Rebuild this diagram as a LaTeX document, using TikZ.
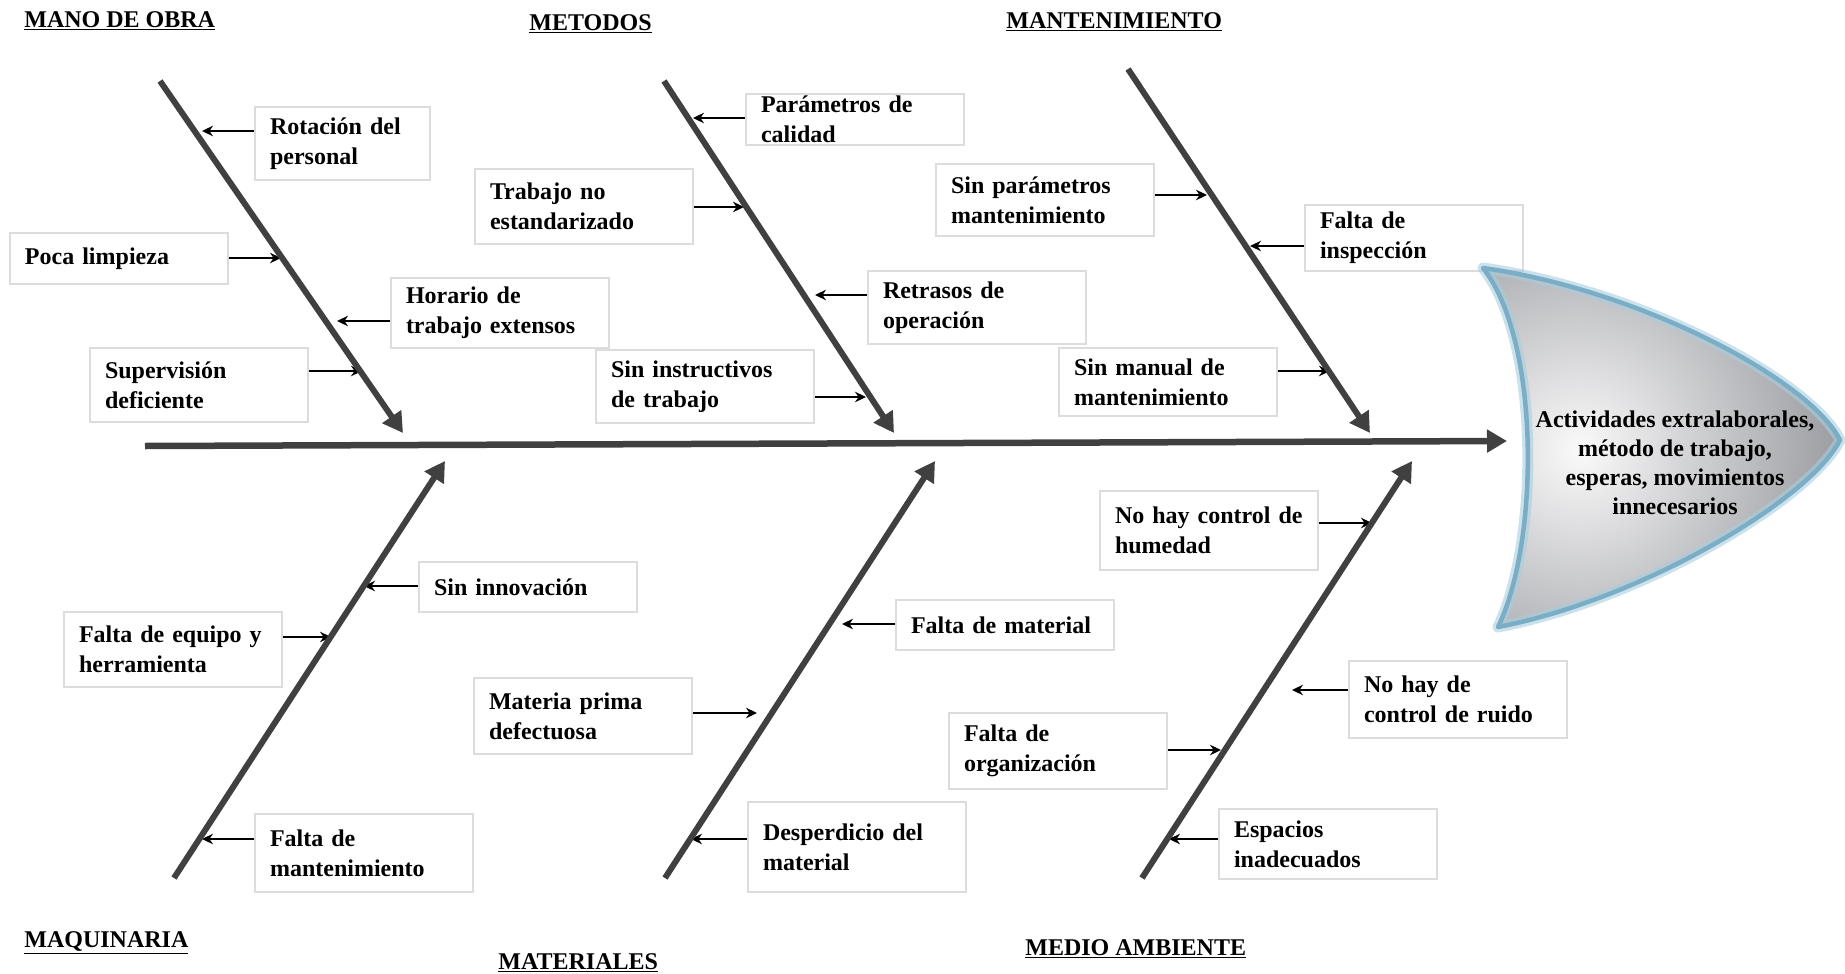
\documentclass[tikz,border=0pt]{standalone}
\usepackage{fontspec}
\setmainfont{Liberation Serif}
\usepackage{tikz,xcolor}
\usetikzlibrary{arrows.meta}
\definecolor{grishueso}{HTML}{404040}
\definecolor{bordecaja}{HTML}{DCDCDC}
\definecolor{brillo}{HTML}{A9CDDD}
\definecolor{brilloosc}{HTML}{7AADC6}
\definecolor{grisosc}{HTML}{6C6E76}
\newcommand{\letra}{\fontsize{13.66pt}{17pt}\selectfont\bfseries}
\tikzset{causa/.style={draw=bordecaja, line width=0.4mm, anchor=north west, align=left,
    text width=37.6mm, inner xsep=3mm, inner ysep=0.5mm, minimum height=#1, font=\letra},
    causa/.default=10mm,
    hueso/.style={draw=grishueso, line width=1.2mm, -{Triangle[length=4mm,width=4.4mm]}},
    flecha/.style={line width=0.35mm, -{Stealth[length=2.2mm,width=2.1mm]}},
    titulo/.style={anchor=base west, inner sep=0pt, font=\letra}}

\begin{document}
\begin{tikzpicture}[x=0.2mm, y=-0.2mm]
    \useasboundingbox (0,0) rectangle (1845,974);
    % Titulos de las categorias
    \node[titulo] (mano) at (24,27) {\underline{MANO DE OBRA}};
    \node[titulo] (meto) at (529,30) {\underline{METODOS}};
    \node[titulo] (mtto) at (1006,28) {\underline{MANTENIMIENTO}};
    \node[titulo] (maqu) at (24,947) {\underline{MAQUINARIA}};
    \node[titulo] (matl) at (498,969) {\underline{MATERIALES}};
    \node[titulo] (medi) at (1025,955) {\underline{MEDIO AMBIENTE}};
    %
    % Causas de arriba
    \node[causa=14.6mm, text width=29mm] (rota) at (254,106) {Rotación del\\personal};
    \node[causa=10.2mm] (limp) at (9,232) {Poca limpieza};
    \node[causa=14mm] (hora) at (390,277) {Horario de\\trabajo extensos};
    \node[causa=14.8mm] (supe) at (89,347) {Supervisión\\deficiente};
    \node[causa=10.2mm, inner ysep=0pt] (para) at (745,93) {Parámetros de\\calidad};
    \node[causa=15mm] (trab) at (474,168) {Trabajo no\\estandarizado};
    \node[causa=14.6mm] (retr) at (867,270) {Retrasos de\\operación};
    \node[causa=14.6mm] (inst) at (595,349) {Sin instructivos\\de trabajo};
    \node[causa=14.4mm] (spar) at (935,163) {Sin parámetros\\mantenimiento};
    \node[causa=13.2mm] (insp) at (1304,204) {Falta de\\inspección};
    \node[causa=13.6mm] (sman) at (1058,347) {Sin manual de\\mantenimiento};
    % Causas de abajo
    \node[causa=10mm] (inno) at (418,561) {Sin innovación};
    \node[causa=15mm] (equi) at (63,611) {Falta de equipo y\\herramienta};
    \node[causa=15.6mm] (mant) at (254,813) {Falta de\\mantenimiento};
    \node[causa=10mm] (mate) at (895,599) {Falta de material};
    \node[causa=15.2mm] (prim) at (473,677) {Materia prima\\defectuosa};
    \node[causa=18mm] (desp) at (747,801) {Desperdicio del\\material};
    \node[causa=15.8mm] (hume) at (1099,490) {No hay control de\\humedad};
    \node[causa=15.4mm] (ruid) at (1348,660) {No hay de\\control de ruido};
    \node[causa=15.2mm] (orga) at (948,712) {Falta de\\organización};
    \node[causa=14mm] (espa) at (1218,808) {Espacios\\inadecuados};
    %
    % Puntas de las flechas sobre los huesos
    \coordinate (prota) at (202,131);
    \coordinate (plimp) at (281,258);
    \coordinate (phora) at (337,321);
    \coordinate (psupe) at (362,371);
    \coordinate (ppara) at (693,118);
    \coordinate (ptrab) at (744,207);
    \coordinate (pretr) at (815,295);
    \coordinate (pinst) at (866,397);
    \coordinate (pspar) at (1207,195);
    \coordinate (pinsp) at (1250,246);
    \coordinate (psman) at (1330,371);
    \coordinate (pinno) at (364,586);
    \coordinate (pequi) at (331,637);
    \coordinate (pmant) at (202,839);
    \coordinate (pmate) at (842,624);
    \coordinate (pprim) at (757,713);
    \coordinate (pdesp) at (691,839);
    \coordinate (phume) at (1372,523);
    \coordinate (pruid) at (1292,690);
    \coordinate (porga) at (1221,750);
    \coordinate (pespa) at (1169,839);
    \draw[flecha] (rota.west |- prota) -- (prota);
    \draw[flecha] (limp.east |- plimp) -- (plimp);
    \draw[flecha] (hora.west |- phora) -- (phora);
    \draw[flecha] (supe.east |- psupe) -- (psupe);
    \draw[flecha] (para.west |- ppara) -- (ppara);
    \draw[flecha] (trab.east |- ptrab) -- (ptrab);
    \draw[flecha] (retr.west |- pretr) -- (pretr);
    \draw[flecha] (inst.east |- pinst) -- (pinst);
    \draw[flecha] (spar.east |- pspar) -- (pspar);
    \draw[flecha] (insp.west |- pinsp) -- (pinsp);
    \draw[flecha] (sman.east |- psman) -- (psman);
    \draw[flecha] (inno.west |- pinno) -- (pinno);
    \draw[flecha] (equi.east |- pequi) -- (pequi);
    \draw[flecha] (mant.west |- pmant) -- (pmant);
    \draw[flecha] (mate.west |- pmate) -- (pmate);
    \draw[flecha] (prim.east |- pprim) -- (pprim);
    \draw[flecha] (desp.west |- pdesp) -- (pdesp);
    \draw[flecha] (hume.east |- phume) -- (phume);
    \draw[flecha] (ruid.west |- pruid) -- (pruid);
    \draw[flecha] (orga.east |- porga) -- (porga);
    \draw[flecha] (espa.west |- pespa) -- (pespa);
    %
    % Espina y huesos
    \coordinate (cola) at (145,446);
    \coordinate (boca) at (1507,441);
    \coordinate (h1a) at (160,81);   \coordinate (h1b) at (403,433);
    \coordinate (h2a) at (664,81);   \coordinate (h2b) at (894,433);
    \coordinate (h3a) at (1128,69);  \coordinate (h3b) at (1370,433);
    \coordinate (h4a) at (174,878);  \coordinate (h4b) at (445,461);
    \coordinate (h5a) at (665,878);  \coordinate (h5b) at (935,461);
    \coordinate (h6a) at (1142,878); \coordinate (h6b) at (1412,461);
    \draw[hueso, line width=1.3mm] (cola) -- (boca);
    \draw[hueso] (h1a) -- (h1b);
    \draw[hueso] (h2a) -- (h2b);
    \draw[hueso] (h3a) -- (h3b);
    \draw[hueso] (h4a) -- (h4b);
    \draw[hueso] (h5a) -- (h5b);
    \draw[hueso] (h6a) -- (h6b);
    %
    % Cabeza del pescado
    \def\cabeza{(1483,268) .. controls (1640,290) and (1810,380) .. (1840,440)
        .. controls (1810,500) and (1640,600) .. (1498,627)
        .. controls (1540,540) and (1540,340) .. cycle}
    \path[path picture={\shade[inner color=gray!4, outer color=grisosc] (1580,450) circle [radius=78mm];}] \cabeza;
    \draw[brillo, line width=2.2mm, opacity=0.6, line join=round] \cabeza;
    \draw[brilloosc, line width=0.9mm, line join=round] \cabeza;
    \node[font={\fontsize{13.66pt}{16.5pt}\selectfont\bfseries}, align=center] (efecto) at (1675,463)
        {Actividades extralaborales,\\método de trabajo,\\esperas, movimientos\\innecesarios};
\end{tikzpicture}
\end{document}
